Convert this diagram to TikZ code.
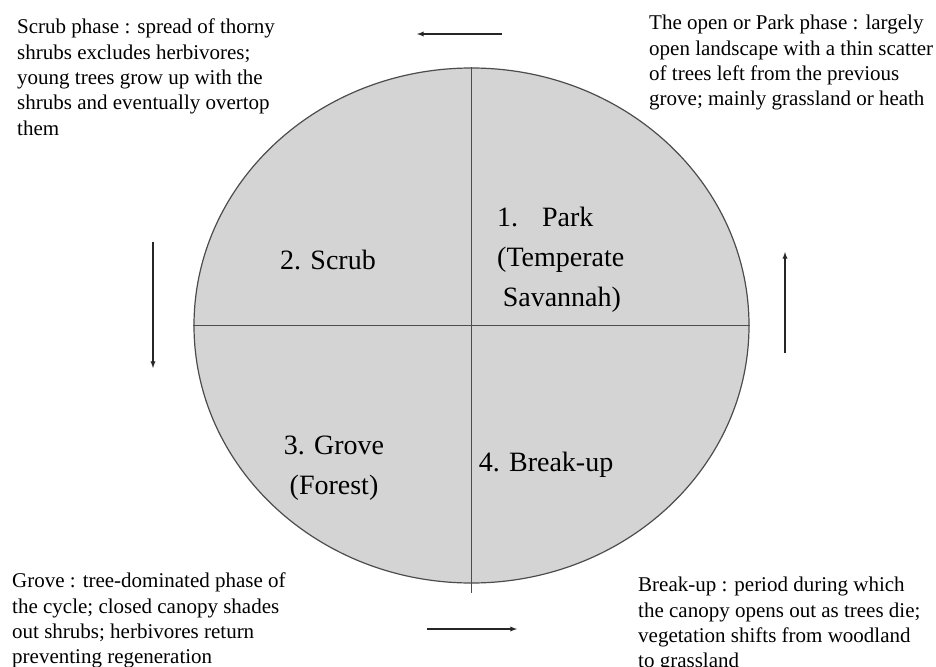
\documentclass[tikz,border=0pt]{standalone}
\usepackage{fontspec}
\setmainfont{Liberation Serif}
\usetikzlibrary{shapes.geometric}
\tikzset{phase disc/.style={ellipse,draw=black!70,fill=black!17,line width=1.2pt,
    minimum width=555pt,minimum height=515pt,inner sep=0pt},
    divider/.style={draw=black!70,line width=1.2pt},
    note/.style={anchor=north west,align=left,inner sep=0pt,
    font=\fontsize{21}{25.3}\selectfont},
    quarter/.style={inner sep=0pt,font=\fontsize{28}{40}\selectfont},
    flow/.style={draw=black!85,line width=1.3pt,-latex}}

\begin{document}
\begin{tikzpicture}[x=1pt,y=-1pt]
    \useasboundingbox (0,0) rectangle (936,666);
    % the cycle
    \node[phase disc] (cycle) at (471.5,325.5) {};
    \draw[divider] (cycle.west) -- (cycle.east);
    \draw[divider] (cycle.north) -- ([yshift=-9pt]cycle.south);
    \node[quarter,anchor=west,align=left] (park) at (497,260)
        {1.\hspace{0.85em}Park\\(Temperate\\\hspace{0.2em}Savannah)};
    \node[quarter] (scrub) at (328,260) {2. Scrub};
    \node[quarter,align=center] (grove) at (334,468) {3. Grove\\(Forest)};
    \node[quarter] (breakup) at (546,465) {4. Break-up};
    % phase notes
    \node[note] (scrubnote) at (17,19) {Scrub phase : spread of thorny\\
        shrubs excludes herbivores;\\young trees grow up with the\\
        shrubs and eventually overtop\\them};
    \node[note] (parknote) at (649,15) {The open or Park phase : largely\\
        open landscape with a thin scatter\\of trees left from the previous\\
        grove; mainly grassland or heath};
    \node[note] (grovenote) at (12,573) {Grove : tree-dominated phase of\\
        the cycle; closed canopy shades\\out shrubs; herbivores return\\
        preventing regeneration};
    \node[note] (breaknote) at (638,577) {Break-up : period during which\\
        the canopy opens out as trees die;\\vegetation shifts from woodland\\
        to grassland};
    % direction of the cycle
    \coordinate (top a) at (502,34);
    \coordinate (top b) at (417,34);
    \coordinate (left a) at (153,242);
    \coordinate (left b) at (153,368);
    \coordinate (bot a) at (427,629);
    \coordinate (bot b) at (517,629);
    \coordinate (right a) at (785,353);
    \coordinate (right b) at (785,252);
    \draw[flow] (top a) -- (top b);
    \draw[flow] (left a) -- (left b);
    \draw[flow] (bot a) -- (bot b);
    \draw[flow] (right a) -- (right b);
\end{tikzpicture}
\end{document}
